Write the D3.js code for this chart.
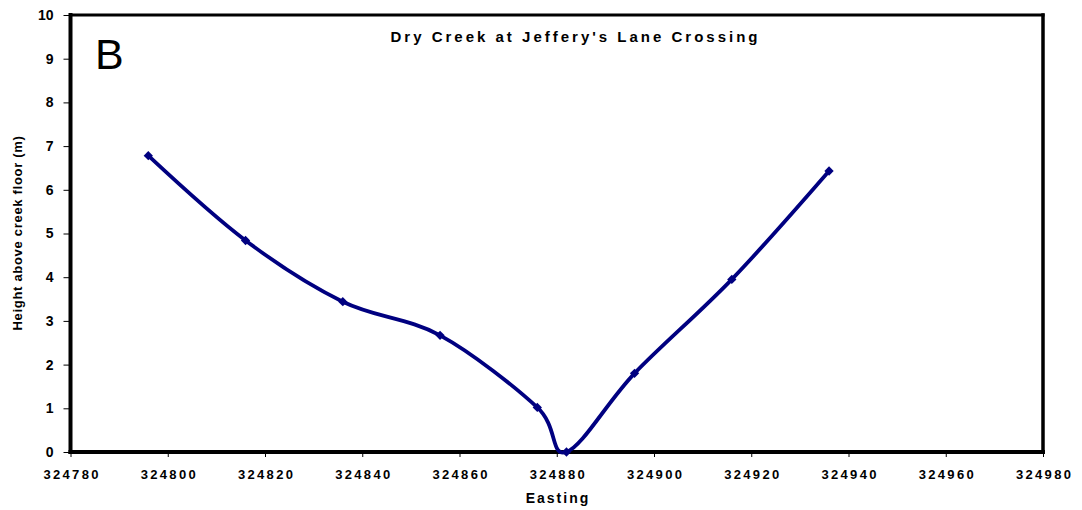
<!DOCTYPE html>
<html>
<head>
<meta charset="utf-8">
<script src="https://cdn.jsdelivr.net/npm/d3@7"></script>
<style>
  html, body { margin: 0; padding: 0; background: #fff; }
  svg { display: block; font-family: Arial, "Liberation Sans", sans-serif; }
</style>
</head>
<body>
<svg id="chart" width="1082" height="510"></svg>
<script>
// Cross-section survey points: easting (m) and height above the creek floor (m)
const easting = [324796, 324816, 324836, 324856, 324876, 324882, 324896, 324916, 324936];
const height  = [6.78, 4.84, 3.44, 2.67, 1.02, 0.0, 1.80, 3.95, 6.43];

const xTicks = [324780, 324800, 324820, 324840, 324860, 324880, 324900, 324920, 324940, 324960, 324980];
const yTicks = [0, 1, 2, 3, 4, 5, 6, 7, 8, 9, 10];

const titleText = "Dry Creek at Jeffery's Lane Crossing";
const panelLabel = "B";
const xLabel = "Easting";
const yLabel = "Height above creek floor (m)";

const FONT = "Arial, 'Liberation Sans', sans-serif";
const svg = d3.select("#chart");
const m = { left: 70.5, right: 1043, top: 15, bottom: 452 };

const x = d3.scaleLinear().domain([324780, 324980]).range([m.left, m.right]);
const y = d3.scaleLinear().domain([0, 10]).range([m.bottom, m.top]);

// Axes with outward ticks
const xAxis = svg.append("g")
  .attr("transform", `translate(0,${m.bottom})`)
  .call(d3.axisBottom(x).tickValues(xTicks).tickSize(5).tickPadding(13).tickFormat(d3.format("d")));
xAxis.select(".domain").remove();
xAxis.selectAll("line").attr("stroke", "#000").attr("stroke-width", 1);
xAxis.selectAll("text")
  .attr("font-size", 13).attr("font-weight", "bold").attr("fill", "#000")
  .attr("letter-spacing", "2.3px").attr("dx", "1.1px").attr("font-family", FONT);

const yAxis = svg.append("g")
  .attr("transform", `translate(${m.left},0)`)
  .call(d3.axisLeft(y).tickValues(yTicks).tickSize(7).tickPadding(10));
yAxis.select(".domain").remove();
yAxis.selectAll("line").attr("stroke", "#000").attr("stroke-width", 1);
yAxis.selectAll("text")
  .attr("font-size", 14).attr("font-weight", "bold").attr("fill", "#000")
  .attr("font-family", FONT);

// Plot frame: heavier on the value axes
const frame = svg.append("g").attr("stroke", "#000").attr("stroke-linecap", "square");
frame.append("line").attr("x1", m.left).attr("x2", m.right).attr("y1", m.top).attr("y2", m.top).attr("stroke-width", 3);
frame.append("line").attr("x1", m.right).attr("x2", m.right).attr("y1", m.top).attr("y2", m.bottom).attr("stroke-width", 3.5);
frame.append("line").attr("x1", m.left).attr("x2", m.left).attr("y1", m.top).attr("y2", m.bottom).attr("stroke-width", 4);

// Smoothed profile line
const pts = easting.map((e, i) => [e, height[i]]);
const line = d3.line()
  .x(d => x(d[0])).y(d => y(d[1]))
  .curve(d3.curveCardinal.tension(0));

svg.append("path")
  .datum(pts)
  .attr("d", line)
  .attr("fill", "none")
  .attr("stroke", "#000080")
  .attr("stroke-width", 3.8)
  .attr("stroke-linejoin", "round");

// Bottom axis line drawn over the curve where it meets the creek floor
frame.append("line").attr("x1", m.left).attr("x2", m.right).attr("y1", m.bottom).attr("y2", m.bottom).attr("stroke-width", 4);

// Diamond markers
svg.append("g").selectAll("path")
  .data(pts)
  .join("path")
  .attr("transform", d => `translate(${x(d[0])},${y(d[1])})`)
  .attr("d", d3.symbol(d3.symbolDiamond2, 55))
  .attr("fill", "#000080");

// Text
svg.append("text")
  .attr("x", 575.5).attr("y", 42)
  .attr("text-anchor", "middle")
  .attr("font-size", 15).attr("font-weight", "bold")
  .attr("letter-spacing", "3px")
  .text(titleText);

svg.append("text")
  .attr("x", 95).attr("y", 69)
  .attr("font-size", 43)
  .text(panelLabel);

svg.append("text")
  .attr("x", 558).attr("y", 503)
  .attr("text-anchor", "middle")
  .attr("font-size", 14).attr("font-weight", "bold")
  .attr("letter-spacing", "2px")
  .text(xLabel);

svg.append("text")
  .attr("transform", `translate(22,233) rotate(-90)`)
  .attr("text-anchor", "middle")
  .attr("font-size", 13).attr("font-weight", "bold")
  .attr("letter-spacing", "0.7px")
  .text(yLabel);
</script>
</body>
</html>
